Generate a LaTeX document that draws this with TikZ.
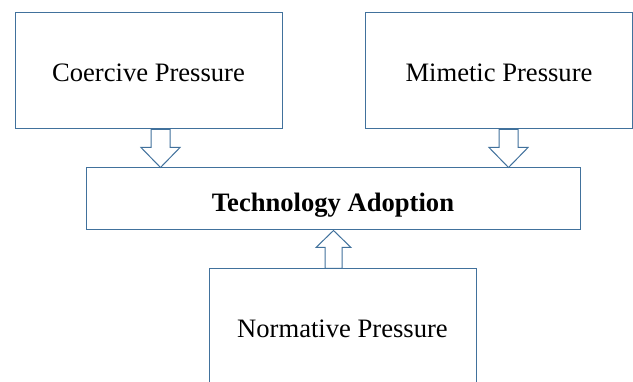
\documentclass[tikz,border=0pt]{standalone}
\usepackage{fontspec}
\setmainfont{Liberation Serif}
\usetikzlibrary{calc}
\definecolor{edgeblue}{RGB}{65,113,156}
\tikzset{
  pbox/.style={draw=edgeblue, line width=1pt, fill=white, inner sep=0pt,
    minimum width=267pt, minimum height=116pt,
    font=\fontsize{26.6}{32}\selectfont, text height=27pt, text depth=5pt},
  techbox/.style={draw=edgeblue, line width=1pt, fill=white, inner sep=0pt,
    minimum width=494pt, minimum height=62pt,
    font=\fontsize{26.6}{32}\selectfont\bfseries, text height=30.4pt, text depth=5pt},
  blockarr/.style={draw=edgeblue, line width=1pt, fill=white, line join=miter}
}
% block arrow from #1 (base) to #2 (tip): shaft half-width #3, head half-width #4, head length #5
\newcommand\blockarrow[5]{%
  \coordinate (hb) at ($(#2)!#5!(#1)$);
  \draw[blockarr] ($(#1)!#3!90:(#2)$) -- ($(hb)!#3!90:(#2)$)
    -- ($(hb)!#4!90:(#2)$) -- (#2) -- ($(hb)!#4!-90:(#2)$)
    -- ($(hb)!#3!-90:(#2)$) -- ($(#1)!#3!-90:(#2)$) -- cycle;
}
\begin{document}
\begin{tikzpicture}[x=1pt,y=-1pt]
\useasboundingbox (0,0) rectangle (633,382);
\node[pbox] (coer) at (148.5,71) {Coercive Pressure};
\node[pbox] (mime) at (499,71) {Mimetic Pressure};
\node[techbox] (tech) at (333,199) {Technology Adoption};
\node[pbox] (norm) at (342.5,327) {Normative Pressure};
\coordinate (a1) at (coer.south -| 160.5,0);
\coordinate (a1t) at (tech.north -| a1);
\coordinate (a2) at (mime.south -| 508.5,0);
\coordinate (a2t) at (tech.north -| a2);
\coordinate (a3) at (norm.north -| 333.5,0);
\coordinate (a3t) at (tech.south -| a3);
\blockarrow{a1}{a1t}{9.5pt}{19.5pt}{20pt}
\blockarrow{a2}{a2t}{9.5pt}{19.5pt}{20pt}
\blockarrow{a3}{a3t}{8.5pt}{17.5pt}{17pt}
\end{tikzpicture}
\end{document}
